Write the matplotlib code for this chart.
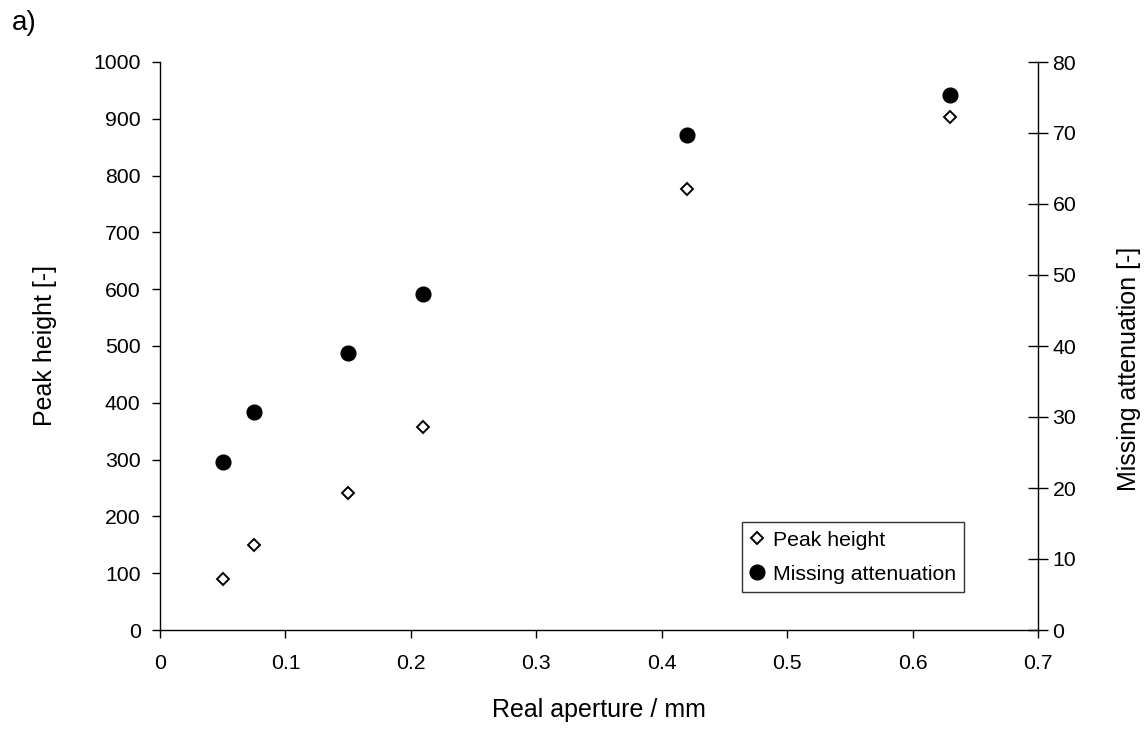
import matplotlib
matplotlib.use("Agg")
import matplotlib.pyplot as plt
from matplotlib.lines import Line2D

plt.rcParams['font.family'] = ['Liberation Sans', 'DejaVu Sans']

aperture = [0.05, 0.075, 0.15, 0.21, 0.42, 0.63]
peak_height = [89, 149, 241, 357, 776, 904]
missing_attenuation = [23.6, 30.7, 39.0, 47.3, 69.7, 75.4]

x_ticks = [0, 0.1, 0.2, 0.3, 0.4, 0.5, 0.6, 0.7]
left_ticks = list(range(0, 1001, 100))
right_ticks = list(range(0, 81, 10))

fig = plt.figure(figsize=(11.46, 7.29), dpi=100)
ax = fig.add_axes([160/1146, 1 - 630/729, (1038 - 160)/1146, (630 - 62)/729])
ax2 = ax.twinx()

diamond_style = dict(linestyle='none', marker='D', markersize=6.6, markerfacecolor='white',
                     markeredgecolor='black', markeredgewidth=1.4)
dot_style = dict(linestyle='none', marker='o', markersize=10.6, markerfacecolor='black',
                 markeredgecolor='black')

ax.plot(aperture, peak_height, zorder=3, **diamond_style)
ax2.plot(aperture, missing_attenuation, zorder=3, **dot_style)

ax.set_xlim(0, 0.7)
ax.set_ylim(0, 1000)
ax2.set_ylim(0, 80)
ax.set_xticks(x_ticks)
ax.set_xticklabels(['0' if v == 0 else f'{v:g}' for v in x_ticks])
ax.set_yticks(left_ticks)
ax2.set_yticks(right_ticks)

for a in (ax, ax2):
    a.spines['top'].set_visible(False)
    for s in a.spines.values():
        s.set_linewidth(1.0)
ax.spines['right'].set_visible(False)
ax2.spines['left'].set_visible(False)
ax2.spines['bottom'].set_visible(False)

tick_fs = 15.3
label_fs = 18
ax.tick_params(axis='both', direction='out', length=6, width=1, labelsize=tick_fs, pad=8)
ax.tick_params(axis='x', pad=11)
ax2.tick_params(axis='y', direction='inout', length=15, width=1, labelsize=tick_fs, pad=3)

ax.set_xlabel('Real aperture / mm', fontsize=label_fs, labelpad=18)
ax.set_ylabel('Peak height [-]', fontsize=label_fs)
ax.yaxis.set_label_coords(-0.117, 0.5)
ax2.set_ylabel('Missing attenuation [-]', fontsize=label_fs, rotation=90)
ax2.yaxis.set_label_coords(1.09, 0.46)

handles = [Line2D([], [], **diamond_style), Line2D([], [], **dot_style)]
leg = ax2.legend(handles, ['Peak height', 'Missing attenuation'],
                 loc='lower left', bbox_to_anchor=((742 - 160)/878, (630 - 592)/568),
                 frameon=True, fancybox=False, fontsize=tick_fs, handlelength=0.6,
                 handletextpad=0.45, borderpad=0.4, labelspacing=0.7,
                 borderaxespad=0, edgecolor='black')
leg.get_frame().set_linewidth(1.0)

fig.text(12/1146, 1 - 23/729, 'a)', fontsize=20, va='center', ha='left')

fig.savefig('out.png', dpi=100)
